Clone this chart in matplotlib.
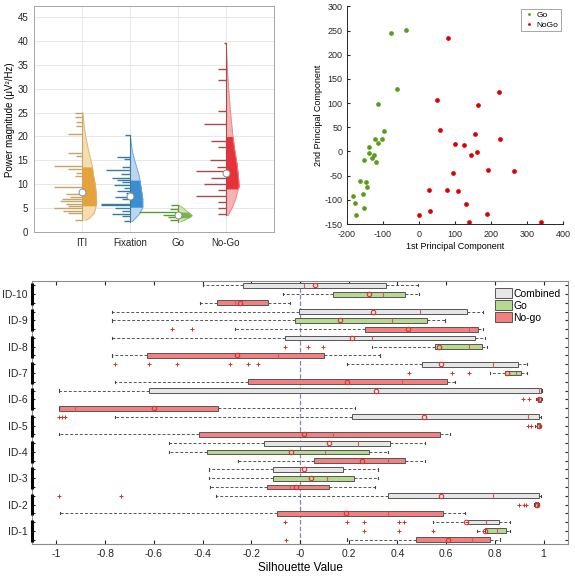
import matplotlib
matplotlib.use('Agg')
import matplotlib.pyplot as plt
from matplotlib.patches import Patch
import matplotlib.transforms as mtransforms
import numpy as np

plt.rcParams['font.family'] = ['Liberation Sans', 'DejaVu Sans']
plt.rcParams['axes.unicode_minus'] = False

# ---------------- top-left: power per condition ----------------
conditions = ['ITI', 'Fixation', 'Go', 'No-Go']

iti_vals = [25.0, 24.1, 23.1, 22.2, 20.5, 16.6, 16.0, 13.9, 13.1, 12.4, 11.8,
            9.5, 8.0, 7.4, 7.0, 6.5, 5.9, 5.4, 5.1, 4.5, 4.0, 2.6]
iti_len = [0.14, 0.14, 0.12, 0.12, 0.28, 0.28, 0.12, 0.59, 0.28, 0.12, 0.14,
           0.58, 0.33, 0.24, 0.42, 0.45, 0.33, 0.28, 0.58, 0.40, 0.28, 0.14]
fix_vals = [20.3, 15.8, 15.2, 13.6, 12.9, 12.1, 11.3, 10.9, 10.4, 9.9, 9.2,
            8.6, 8.1, 7.4, 6.9, 5.9, 5.6, 5.0, 4.5, 3.8, 3.4, 2.4]
fix_len = [0.10, 0.26, 0.13, 0.16, 0.49, 0.19, 0.37, 0.26, 0.17, 0.33, 0.13,
           0.26, 0.09, 0.30, 0.16, 0.61, 0.61, 0.30, 0.16, 0.37, 0.16, 0.13]
go_vals = [5.6, 4.8, 4.2, 3.6, 3.1, 2.6]
go_len = [0.15, 0.17, 0.80, 0.31, 0.21, 0.16]
nogo_vals = [39.6, 34.2, 31.8, 25.3, 22.7, 19.0, 17.7, 15.1, 13.7, 12.7, 11.4,
             10.1, 8.8, 7.6, 6.4, 5.0, 3.8]
nogo_len = [0.04, 0.16, 0.16, 0.16, 0.46, 0.30, 0.16, 0.32, 0.19, 0.61, 0.30,
            0.46, 0.16, 0.61, 0.16, 0.16, 0.16]

medians = [8.4, 7.5, 3.5, 12.4]
q1s = [5.5, 5.2, 3.0, 9.0]
q3s = [13.7, 10.9, 4.2, 20.0]

# density outline (height, half width)
iti_prof_y = [2.5, 3, 4, 5.5, 6, 8, 10, 12, 13.7, 15, 17, 20, 22, 25]
iti_prof_w = [0.09, 0.17, 0.26, 0.30, 0.31, 0.30, 0.28, 0.24, 0.22, 0.19, 0.14, 0.08, 0.05, 0.02]
fix_prof_y = [2.2, 3, 4, 5.2, 7, 9, 10.9, 12, 15, 17, 20.2]
fix_prof_w = [0.05, 0.13, 0.22, 0.27, 0.27, 0.24, 0.21, 0.19, 0.10, 0.05, 0.01]
go_prof_y = [2.2, 2.4, 3.0, 3.5, 4.2, 5.0, 5.6]
go_prof_w = [0.07, 0.12, 0.24, 0.30, 0.21, 0.12, 0.03]
nogo_prof_y = [3.5, 5, 7, 9, 9.5, 11, 14, 17, 20, 22, 25, 30, 35, 39.5]
nogo_prof_w = [0.05, 0.13, 0.21, 0.26, 0.28, 0.27, 0.24, 0.19, 0.15, 0.13, 0.10, 0.06, 0.03, 0.01]

# ---------------- top-right: PCA scatter ----------------
go_pc1 = [-36, -76, -60, -114, -98, -122, -102, -112, -138, -138, -125,
          -129, -153, -119, -163, -147, -143, -155, -183, -176, -152, -174]
go_pc2 = [252, 245, 129, 98, 43, 25, 26, 18, 10, -3, -8,
          -14, -18, -21, -60, -64, -74, -88, -91, -107, -117, -132]
nogo_pc1 = [80, 222, 51, 163, 57, 156, 224, 101, 124, 161, 144, 94,
            191, 262, 29, 78, 107, 131, 30, 0, 188, 140, 339]
nogo_pc2 = [234, 123, 107, 96, 44, 36, 25, 15, 13, -1, -8, -45,
            -39, -41, -80, -80, -82, -109, -123, -131, -130, -145, -145]

# ---------------- bottom: silhouette values ----------------
subject_ids = ['ID-10', 'ID-9', 'ID-8', 'ID-7', 'ID-6', 'ID-5', 'ID-4', 'ID-3', 'ID-2', 'ID-1']
groups = ['Combined', 'Go', 'No-go']
# rows from top: ID-10 Combined, ID-10 Go, ID-10 No-go, ID-9 Combined ...
sil_whislo = [-0.40, -0.07, -0.41, -0.77, -0.77, -0.265, -0.77, 0.295, -0.77,
              0.192, 0.782, -0.761, -0.99, 0.97, -0.99, -0.761, 0.965, -0.99,
              -0.538, -0.538, -0.254, -0.373, -0.373, -0.37, -0.343, 0.96, -0.985,
              0.547, 0.727, 0.195]
sil_q1 = [-0.235, 0.134, -0.339, -0.003, -0.02, 0.268, -0.062, 0.553, -0.628,
          0.499, 0.841, -0.213, -0.621, 0.978, -0.988, 0.215, 0.975, -0.414,
          -0.147, -0.381, 0.059, -0.11, -0.11, -0.137, 0.362, 0.966, -0.093,
          0.69, 0.761, 0.476]
sil_med = [0.018, 0.34, -0.267, 0.494, 0.377, 0.693, 0.295, 0.695, -0.092,
           0.792, 0.885, 0.418, 0.98, 0.983, -0.923, 0.936, 0.98, 0.137,
           0.237, 0.103, 0.362, 0.0, 0.11, -0.041, 0.791, 0.971, 0.361,
           0.765, 0.81, 0.706]
sil_mean = [0.06, 0.283, -0.247, 0.298, 0.165, 0.442, 0.213, 0.572, -0.257,
            0.579, 0.848, 0.192, 0.311, 0.983, -0.601, 0.508, 0.98, 0.018,
            0.119, -0.035, 0.256, 0.015, 0.045, -0.018, 0.579, 0.971, 0.188,
            0.683, 0.759, 0.606]
sil_q3 = [0.354, 0.432, -0.13, 0.686, 0.521, 0.73, 0.72, 0.748, 0.097,
          0.895, 0.909, 0.604, 0.99, 0.988, -0.336, 0.983, 0.985, 0.576,
          0.368, 0.285, 0.432, 0.178, 0.22, 0.119, 0.98, 0.976, 0.589,
          0.819, 0.844, 0.781]
sil_whishi = [0.486, 0.487, -0.041, 0.75, 0.597, 0.75, 0.76, 0.768, 0.329,
              0.93, 0.93, 0.636, 0.995, 0.993, 0.226, 0.99, 0.99, 0.617,
              0.512, 0.362, 0.512, 0.32, 0.322, 0.309, 0.99, 0.982, 0.679,
              0.864, 0.864, 0.823]
sil_fliers = [[], [], [], [], [], [-0.524, -0.442], [], [-0.062, 0.034, 0.093], [],
              [-0.761, -0.621, -0.505, -0.288, -0.213, -0.171], [0.449, 0.624, 0.695], [],
              [], [0.915, 0.942], [], [-0.99, -0.977, -0.963], [0.935, 0.95], [],
              [], [], [], [], [], [], [-0.988, -0.734], [0.9, 0.918, 0.929], [],
              [-0.06, 0.193, 0.263, 0.405, 0.426], [0.263, 0.406, 0.548], [-0.058]]

fig = plt.figure(figsize=(5.75, 5.76), dpi=100)

# ===== violin / rain panel =====
ax1 = fig.add_axes([0.059, 0.597, 0.417, 0.392])
all_vals = [iti_vals, fix_vals, go_vals, nogo_vals]
all_len = [iti_len, fix_len, go_len, nogo_len]
all_py = [iti_prof_y, fix_prof_y, go_prof_y, nogo_prof_y]
all_pw = [iti_prof_w, fix_prof_w, go_prof_w, nogo_prof_w]
light = ['#F6DCAE', '#B9D8EF', '#CFE6B4', '#F6B3B3']
dark = ['#E6A33C', '#3B8ED0', '#79B446', '#E8313B']
edge = ['#D9B57A', '#6AA6D6', '#8DBB62', '#E68A8A']
rug = ['#C4A567', '#3A7C9E', '#5B9A2C', '#A94848']

for i in range(4):
    pos = i + 1
    ax1.hlines(all_vals[i], pos - np.array(all_len[i]), pos, colors=rug[i], lw=1.0, zorder=3)
    yy = np.linspace(min(all_py[i]), max(all_py[i]), 300)
    ww = np.interp(yy, all_py[i], all_pw[i])
    ax1.fill_betweenx(yy, pos, pos + ww, color=light[i], lw=0, zorder=2)
    m = (yy >= q1s[i]) & (yy <= q3s[i])
    ax1.fill_betweenx(yy[m], pos, pos + ww[m], color=dark[i], lw=0, zorder=2)
    ax1.plot(pos + ww, yy, color=edge[i], lw=0.6, zorder=2)
    ax1.plot([pos, pos], [yy[0], yy[-1]], color=rug[i], lw=0.8, zorder=3)
    ax1.plot(pos, medians[i], 'o', mfc='white', mec='#8C8C8C', ms=5, mew=0.7, zorder=5)

ax1.set_xlim(0, 5)
ax1.set_ylim(0, 47.2)
ax1.set_xticks([1, 2, 3, 4])
ax1.set_xticklabels(conditions)
ax1.set_yticks(np.arange(0, 46, 5))
ax1.grid(True, color='#E3E3E3', lw=0.6)
ax1.set_axisbelow(True)
ax1.tick_params(direction='in', length=0, labelsize=7, colors='#262626', pad=4)
for s in ax1.spines.values():
    s.set_color('#A6A6A6')
    s.set_linewidth(0.7)
ax1.set_ylabel('Power magnitude (μV²/Hz)', fontsize=7, labelpad=2)

# ===== PCA scatter =====
ax2 = fig.add_axes([0.603, 0.611, 0.3767, 0.378])
ax2.plot(go_pc1, go_pc2, 'o', color='#5C9C1C', ms=3.4, mew=0, label='Go')
ax2.plot(nogo_pc1, nogo_pc2, 'o', color='#DD0000', ms=3.4, mew=0, label='NoGo')
ax2.set_xlim(-200, 400)
ax2.set_ylim(-150, 300)
ax2.set_xticks(np.arange(-200, 401, 100))
ax2.set_yticks(np.arange(-150, 301, 50))
ax2.spines['top'].set_visible(False)
ax2.spines['right'].set_visible(False)
for s in ['left', 'bottom']:
    ax2.spines[s].set_color('#262626')
    ax2.spines[s].set_linewidth(0.7)
ax2.tick_params(direction='in', length=2.5, labelsize=6.5, colors='#262626')
ax2.tick_params(axis='x', pad=4.5)
ax2.tick_params(axis='y', pad=3)
ax2.set_xlabel('1st Principal Component', fontsize=6.5, labelpad=2)
ax2.set_ylabel('2nd Principal Component', fontsize=6.5, labelpad=1)
leg2 = ax2.legend(loc='upper right', fontsize=6, markerscale=0.6, handlelength=1.2,
                  handletextpad=0.3, borderpad=0.3, labelspacing=0.2,
                  fancybox=False, edgecolor='#7F7F7F', borderaxespad=0.3)
leg2.get_frame().set_linewidth(0.6)

# ===== silhouette boxplots =====
ax3 = fig.add_axes([0.0557, 0.0556, 0.932, 0.4566])
n_rows = len(sil_med)
stats = []
for k in range(n_rows):
    stats.append(dict(med=sil_med[k], q1=sil_q1[k], q3=sil_q3[k], mean=sil_mean[k],
                      whislo=sil_whislo[k], whishi=sil_whishi[k], fliers=sil_fliers[k]))
positions = np.arange(n_rows, 0, -1)
box_colors = {'Combined': '#E6E6E6', 'Go': '#B6D88F', 'No-go': '#F47F7F'}

ax3.axvline(0, color='#8585C4', ls='--', lw=0.9, zorder=1)
bp = ax3.bxp(stats, positions=positions, widths=0.55, orientation='horizontal',
             patch_artist=True, showmeans=True, manage_ticks=False, capwidths=0.25,
             boxprops=dict(edgecolor='#555555', lw=0.7),
             whiskerprops=dict(color='#555555', ls=(0, (3, 2)), lw=0.7),
             capprops=dict(color='#444444', lw=0.8),
             medianprops=dict(color='#E05555', lw=0.8),
             meanprops=dict(marker='o', mfc='none', mec='#E03030', ms=3.2, mew=0.8),
             flierprops=dict(marker='+', mec='#D03030', ms=3, mew=0.7))
for k, box in enumerate(bp['boxes']):
    box.set_facecolor(box_colors[groups[k % 3]])

ax3.set_xlim(-1.1, 1.1)
ax3.set_ylim(0.5, n_rows + 0.5)
xt = np.round(np.arange(-1, 1.01, 0.2), 1)
ax3.set_xticks(xt)
ax3.set_xticklabels(['%g' % v for v in xt])
ax3.set_yticks(positions)
ylabels = []
for k in range(n_rows):
    ylabels.append(subject_ids[k // 3] if k % 3 == 1 else '')
ax3.set_yticklabels(ylabels)
ax3.tick_params(axis='both', direction='in', top=True, right=True, labelsize=7.5,
                colors='#262626', length=3)
ax3.tick_params(axis='y', length=2.5, pad=3)
for s in ax3.spines.values():
    s.set_color('#8C8C8C')
    s.set_linewidth(0.8)
trans = mtransforms.blended_transform_factory(ax3.transAxes, ax3.transData)
for g in range(len(subject_ids)):
    lo = 3 * g + 1
    ax3.plot([0, 0], [lo - 0.25, lo + 2.25], transform=trans, color='black', lw=2.2,
             clip_on=False, solid_capstyle='butt', zorder=6)
ax3.set_xlabel('Silhouette Value', fontsize=8.5, labelpad=2)
handles = [Patch(facecolor=box_colors[g], edgecolor='#555555', lw=0.7) for g in groups]
ax3.legend(handles, groups, loc='upper right', frameon=False, fontsize=7.5,
           handlelength=1.7, handleheight=1.1, handletextpad=0.1, labelspacing=0.15,
           borderaxespad=0.3)

fig.savefig('out.png', dpi=100)
